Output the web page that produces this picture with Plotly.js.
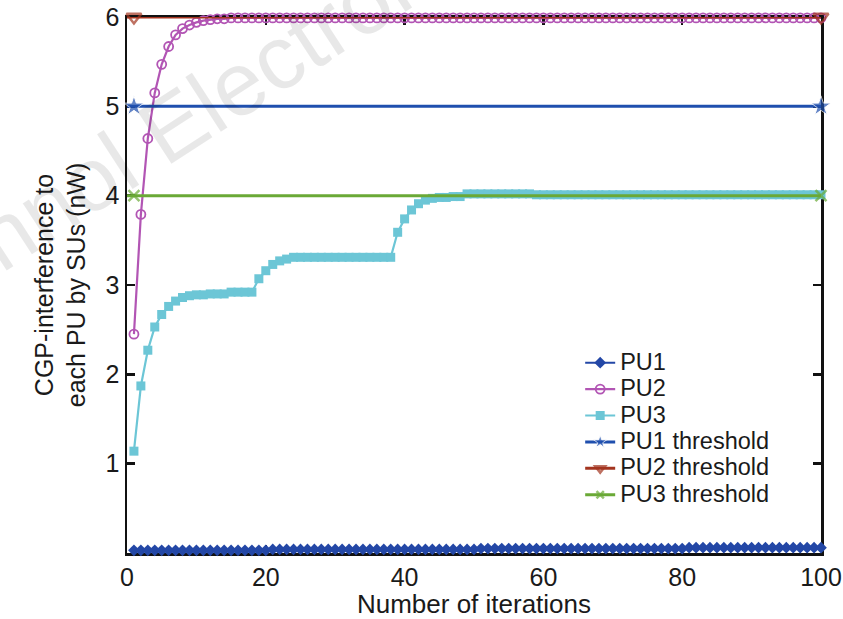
<!DOCTYPE html>
<html>
<head>
<meta charset="utf-8">
<script src="https://cdn.plot.ly/plotly-3.0.1.min.js"></script>
<style>
  html, body { margin: 0; padding: 0; background: #ffffff; }
  #chart { width: 843px; height: 619px; }
</style>
</head>
<body>
<div id="chart"></div>
<script>
// ---- Data ----
const iterations = [1,2,3,4,5,6,7,8,9,10,11,12,13,14,15,16,17,18,19,20,
  21,22,23,24,25,26,27,28,29,30,31,32,33,34,35,36,37,38,39,40,
  41,42,43,44,45,46,47,48,49,50,51,52,53,54,55,56,57,58,59,60,
  61,62,63,64,65,66,67,68,69,70,71,72,73,74,75,76,77,78,79,80,
  81,82,83,84,85,86,87,88,89,90,91,92,93,94,95,96,97,98,99,100];

const pu1 = [0.03,0.03,0.03,0.03,0.03,0.03,0.03,0.03,0.03,0.03,0.03,0.03,0.03,0.03,0.03,0.03,0.03,0.03,0.03,0.03,
  0.04,0.04,0.04,0.04,0.04,0.04,0.04,0.04,0.04,0.04,0.04,0.04,0.04,0.04,0.04,0.04,0.04,0.04,0.04,0.04,
  0.04,0.04,0.04,0.04,0.04,0.04,0.04,0.04,0.04,0.04,0.05,0.05,0.05,0.05,0.05,0.05,0.05,0.05,0.05,0.05,
  0.05,0.05,0.05,0.05,0.05,0.05,0.05,0.05,0.05,0.05,0.05,0.05,0.05,0.05,0.05,0.05,0.05,0.05,0.05,0.05,
  0.06,0.06,0.06,0.06,0.06,0.06,0.06,0.06,0.06,0.06,0.06,0.06,0.06,0.06,0.06,0.06,0.06,0.06,0.06,0.06];

const pu2 = [2.45,3.79,4.64,5.15,5.47,5.67,5.80,5.87,5.91,5.94,5.96,5.97,5.98,5.98,5.99,5.99,5.99,5.99,5.99,5.99,
  5.99,5.99,5.99,5.99,5.99,5.99,5.99,5.99,5.99,5.99,5.99,5.99,5.99,5.99,5.99,5.99,5.99,5.99,5.99,5.99,
  5.99,5.99,5.99,5.99,5.99,5.99,5.99,5.99,5.99,5.99,5.99,5.99,5.99,5.99,5.99,5.99,5.99,5.99,5.99,5.99,
  5.99,5.99,5.99,5.99,5.99,5.99,5.99,5.99,5.99,5.99,5.99,5.99,5.99,5.99,5.99,5.99,5.99,5.99,5.99,5.99,
  5.99,5.99,5.99,5.99,5.99,5.99,5.99,5.99,5.99,5.99,5.99,5.99,5.99,5.99,5.99,5.99,5.99,5.99,5.99,5.99];

const pu3 = [1.14,1.87,2.27,2.53,2.67,2.76,2.82,2.86,2.88,2.89,2.89,2.90,2.90,2.90,2.92,2.92,2.92,2.92,3.07,3.16,
  3.23,3.27,3.29,3.31,3.31,3.31,3.31,3.31,3.31,3.31,3.31,3.31,3.31,3.31,3.31,3.31,3.31,3.31,3.59,3.74,
  3.84,3.91,3.95,3.97,3.98,3.98,3.99,3.99,4.02,4.02,4.02,4.02,4.02,4.02,4.02,4.02,4.02,4.02,4.01,4.01,
  4.01,4.01,4.01,4.01,4.01,4.01,4.01,4.01,4.01,4.01,4.01,4.01,4.01,4.01,4.01,4.01,4.01,4.01,4.01,4.01,
  4.01,4.01,4.01,4.01,4.01,4.01,4.01,4.01,4.01,4.01,4.01,4.01,4.01,4.01,4.01,4.01,4.01,4.01,4.01,4.01];

const thresholdX = [0, 1, 100];
const pu1Threshold = [5, 5, 5];
const pu2Threshold = [6, 6, 6];
const pu3Threshold = [4, 4, 4];

const seriesNames = ["PU1", "PU2", "PU3", "PU1 threshold", "PU2 threshold", "PU3 threshold"];
const xTicks = [0, 20, 40, 60, 80, 100];
const yTicks = [1, 2, 3, 4, 5, 6];

// ---- Styles ----
const C = {
  pu1: "#2347a6",
  pu2: "#b255b4",
  pu3: "#6cc6d6",
  t1: "#1f4fae",
  t2: "#a3341f",
  t3: "#6aa936"
};
const FONT = "Liberation Sans, Arial, Helvetica, sans-serif";
const legendName = (s) => '<span style="font-size:23.5px">' + s + '</span>';

const traces = [
  { x: iterations, y: pu1, name: legendName(seriesNames[0]), type: "scatter", mode: "lines+markers",
    line: { color: C.pu1, width: 2 },
    marker: { symbol: "diamond", size: 9, color: C.pu1 }, cliponaxis: false },
  { x: iterations, y: pu2, name: legendName(seriesNames[1]), type: "scatter", mode: "lines+markers",
    line: { color: C.pu2, width: 2.2 },
    marker: { symbol: "circle-open", size: 9, color: C.pu2, line: { width: 1.8, color: C.pu2 } }, cliponaxis: false },
  { x: iterations, y: pu3, name: legendName(seriesNames[2]), type: "scatter", mode: "lines+markers",
    line: { color: C.pu3, width: 2.2 },
    marker: { symbol: "square", size: 9, color: C.pu3 }, cliponaxis: false },
  { x: thresholdX, y: pu1Threshold, name: legendName(seriesNames[3]), type: "scatter", mode: "lines+markers",
    line: { color: C.t1, width: 3 },
    marker: { symbol: "star", size: [0, 15, 15], color: C.t1 }, cliponaxis: false },
  { x: thresholdX, y: pu2Threshold, name: legendName(seriesNames[4]), type: "scatter", mode: "lines+markers",
    line: { color: C.t2, width: 3 },
    marker: { symbol: "triangle-down-open", size: [0, 13, 13], color: C.t2, line: { width: 2.5, color: C.t2 } }, cliponaxis: false },
  { x: thresholdX, y: pu3Threshold, name: legendName(seriesNames[5]), type: "scatter", mode: "lines+markers",
    line: { color: C.t3, width: 3 },
    marker: { symbol: "x-thin-open", size: [0, 11, 11], color: C.t3, line: { width: 2.5, color: C.t3 } }, cliponaxis: false }
];

const axisCommon = {
  showline: true, linecolor: "#111111", linewidth: 2.5,
  mirror: "ticks", ticks: "inside", ticklen: 8, tickwidth: 2.5, tickcolor: "#111111",
  showgrid: false, zeroline: false, layer: "below traces",
  tickfont: { family: FONT, size: 25, color: "#1a1a1a" }
};

const layout = {
  width: 843, height: 619,
  margin: { l: 127, r: 22, t: 17, b: 66 },
  paper_bgcolor: "#ffffff", plot_bgcolor: "#ffffff",
  showlegend: true,
  legend: {
    x: 0.653, xanchor: "left", y: 0.389, yanchor: "top",
    bgcolor: "rgba(255,255,255,0)", borderwidth: 0,
    font: { family: FONT, size: 18, color: "#1a1a1a" },
    tracegroupgap: 0
  },
  xaxis: Object.assign({}, axisCommon, {
    range: [0, 100], tickvals: xTicks, ticktext: xTicks.map(String),
    title: { text: "Number of iterations", font: { family: FONT, size: 26, color: "#1a1a1a" }, standoff: 5 }
  }),
  yaxis: Object.assign({}, axisCommon, {
    range: [0, 6], tickvals: yTicks, ticktext: yTicks.map(String),
    title: { text: "CGP-interference to<br>each PU by SUs (nW)", font: { family: FONT, size: 25, color: "#1a1a1a" }, standoff: 13 }
  }),
  annotations: [{
    text: "echnol Electron", xref: "paper", yref: "paper",
    x: (165 - 127) / 694, y: (553 - 131) / 536, xanchor: "center", yanchor: "middle",
    showarrow: false, textangle: -33,
    font: { family: FONT, size: 90, color: "rgba(0,0,0,0.09)" }
  }]
};

Plotly.newPlot("chart", traces, layout, { displayModeBar: false, staticPlot: true });
</script>
</body>
</html>
